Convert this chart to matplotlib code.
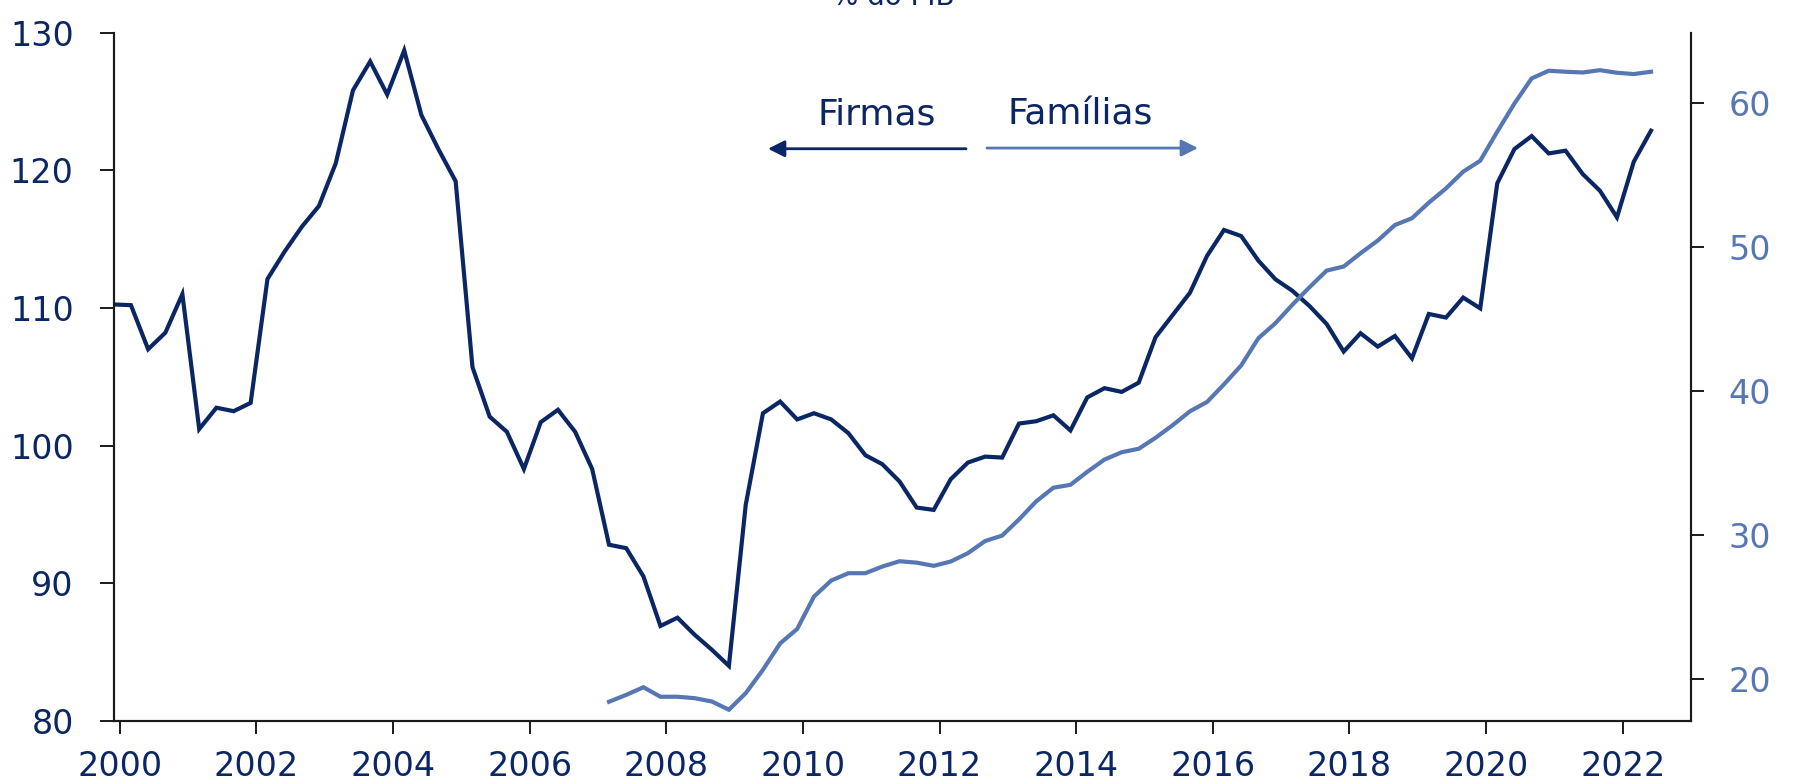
import pandas as pd
import matplotlib
matplotlib.use("Agg")
import matplotlib.pyplot as plt

# Debt, % of GDP, quarterly (end of quarter)
firmas = [
    110.25,
    110.2, 107.0, 108.2, 111.0,
    101.2, 102.75, 102.5, 103.1,
    112.1, 114.1, 115.9, 117.4,
    120.5, 125.8, 127.9, 125.5,
    128.7, 124.0, 121.5, 119.2,
    105.7, 102.1, 101.0, 98.3,
    101.7, 102.6, 101.0, 98.3,
    92.8, 92.55, 90.5, 86.9,
    87.5, 86.26, 85.17, 84.0,
    95.7, 102.35, 103.2, 101.9,
    102.35, 101.9, 100.9, 99.3,
    98.65, 97.4, 95.5, 95.33,
    97.56, 98.77, 99.2, 99.13,
    101.6, 101.77, 102.2, 101.1,
    103.5, 104.17, 103.9, 104.57,
    107.87, 109.49, 111.1, 113.77,
    115.66, 115.22, 113.43, 112.08,
    111.25, 110.14, 108.83, 106.83,
    108.16, 107.19, 107.96, 106.34,
    109.56, 109.3, 110.75, 109.97,
    119.05, 121.54, 122.48, 121.22,
    121.42, 119.72, 118.51, 116.58,
    120.62, 122.87,
]
familias = [
    18.45, 18.93, 19.46, 18.8,
    18.8, 18.7, 18.47, 17.9,
    19.05, 20.67, 22.5, 23.5,
    25.75, 26.86, 27.37, 27.37,
    27.83, 28.2, 28.1, 27.88,
    28.18, 28.76, 29.6, 29.98,
    31.1, 32.35, 33.3, 33.5,
    34.4, 35.25, 35.76, 36.0,
    36.76, 37.64, 38.6, 39.24,
    40.47, 41.78, 43.67, 44.71,
    45.98, 47.2, 48.36, 48.64,
    49.56, 50.44, 51.52, 51.99,
    53.07, 54.06, 55.22, 55.98,
    57.99, 59.95, 61.69, 62.22,
    62.15, 62.1, 62.26, 62.08,
    61.99, 62.15,
]
firmas_start = "1999-12-01"
familias_start = "2007-03-01"
tick_years = list(range(2000, 2023, 2))
left_ticks = [80, 90, 100, 110, 120, 130]
right_ticks = [20, 30, 40, 50, 60]

navy = "#0b2664"
light = "#5677b4"

x_f = pd.date_range(firmas_start, periods=len(firmas), freq="3MS")
x_h = pd.date_range(familias_start, periods=len(familias), freq="3MS")

fig = plt.figure(figsize=(17.94, 7.84), dpi=100)
ax = fig.add_axes([0.0635, 0.0804, 0.8791, 0.8781])
ax2 = ax.twinx()

ax.plot(x_f, firmas, color=navy, lw=3.0, solid_joinstyle="miter")
ax2.plot(x_h, familias, color=light, lw=3.0, solid_joinstyle="miter")

ax.set_xlim(pd.Timestamp(firmas_start), pd.Timestamp("2023-01-01"))
ax.set_ylim(80, 130)
ax2.set_ylim(17.12, 64.87)

ax.set_yticks(left_ticks)
ax2.set_yticks(right_ticks)
ax.set_xticks([pd.Timestamp(f"{y}-01-01") for y in tick_years])
ax.set_xticklabels([str(y) for y in tick_years])

for a in (ax, ax2):
    a.spines["top"].set_visible(False)
    for s in ("left", "right", "bottom"):
        a.spines[s].set_linewidth(1.5)
        a.spines[s].set_color("#1a1a1a")

ax.tick_params(axis="y", direction="out", length=10, width=1.4,
               color="#1a1a1a", labelsize=24, labelcolor=navy, pad=19)
ax.tick_params(axis="x", direction="out", length=9, width=1.4,
               color="#1a1a1a", labelsize=24, labelcolor=navy, pad=12)
ax2.tick_params(axis="y", direction="out", length=9, width=1.4,
                color="#1a1a1a", labelsize=24, labelcolor=light, pad=18)

# legend-like arrows
ax.annotate("", xy=(0.4147, 0.8312), xytext=(0.5403, 0.8312),
            xycoords="axes fraction",
            arrowprops=dict(arrowstyle="-|>", color=navy, lw=2,
                            mutation_scale=25, shrinkA=0, shrinkB=0))
ax.annotate("", xy=(0.6874, 0.8322), xytext=(0.5536, 0.8322),
            xycoords="axes fraction",
            arrowprops=dict(arrowstyle="-|>", color=light, lw=2,
                            mutation_scale=25, shrinkA=0, shrinkB=0))
ax.text(0.4838, 0.8657, "Firmas", transform=ax.transAxes, ha="center",
        va="baseline", fontsize=26, color=navy)
ax.text(0.6126, 0.8657, "Famílias", transform=ax.transAxes, ha="center",
        va="baseline", fontsize=26, color=navy)

fig.text(0.4978, 0.9936, "% do PIB", ha="center", va="baseline",
         fontsize=20, color=navy)

fig.savefig("out.png", dpi=100)
